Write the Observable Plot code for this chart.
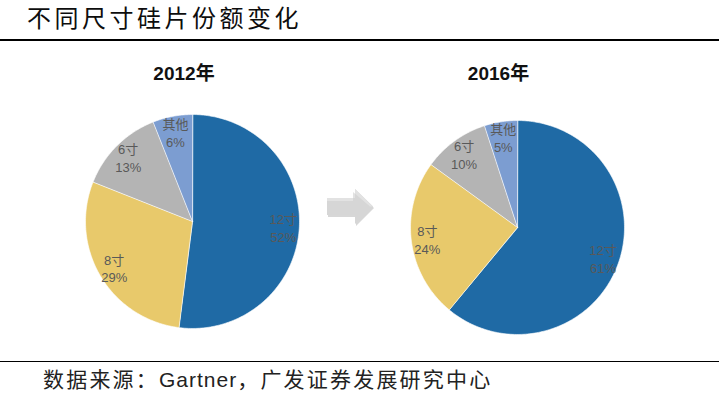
<!DOCTYPE html>
<html><head><meta charset="utf-8">
<script src="https://cdn.jsdelivr.net/npm/d3@7"></script>
<script src="https://cdn.jsdelivr.net/npm/@observablehq/plot@0.6"></script>
<style>
body{margin:0;background:#fff;}
#wrap{position:relative;width:719px;height:396px;overflow:hidden;font-family:"Noto Sans CJK SC",sans-serif;}
#title{position:absolute;left:27px;top:5px;font-size:24px;letter-spacing:3.5px;line-height:24px;color:#0d0d0d;white-space:nowrap;}
#topline{position:absolute;left:0;top:38.5px;width:719px;height:2px;background:#000;}
#botline{position:absolute;left:0;top:360.5px;width:719px;height:1.5px;background:#000;}
#caption{position:absolute;left:43px;top:367px;font-size:21px;line-height:22px;letter-spacing:2.2px;color:#222;white-space:nowrap;font-family:"Noto Sans CJK SC",sans-serif;}
#caption .lat{font-family:"Liberation Sans",Arial,sans-serif;letter-spacing:1px;}
.year{position:absolute;width:120px;text-align:center;font-weight:bold;font-size:19px;line-height:19px;color:#111;font-family:"Liberation Sans","Noto Sans CJK SC",sans-serif;}
.pie{position:absolute;}
#arrow{position:absolute;left:0;top:0;}
</style>
</head><body>
<div id="wrap">
  <div id="title">不同尺寸硅片份额变化</div>
  <div id="topline"></div>
  <div class="year" id="y0" style="left:124px;top:63.5px;"></div>
  <div class="year" id="y1" style="left:438.5px;top:63.5px;"></div>
  <div class="pie" id="p0" style="left:76.5px;top:106px;"></div>
  <div class="pie" id="p1" style="left:402px;top:112px;"></div>
  <svg id="arrow" width="719" height="396">
    <polygon points="328,200 356,200 356,191 374,208 356,226 356,217 328,217" fill="#bdbdbd" opacity="0.6"/>
    <polygon points="327,198 355,198 355,189 373,206.5 355,224 355,215 327,215" fill="#d6d6d6"/>
    <polygon points="327,198 355,198 355,189 373,206.5 370,206.5 353,192 353,201 327,201" fill="#e2e2e2"/>
  </svg>
  <div id="botline"></div>
  <div id="caption">数据来源：<span class="lat">Gartner</span>，广发证券发展研究中心</div>
</div>
<script>
const categories = ["12寸", "8寸", "6寸", "其他"];
const years = ["2012年", "2016年"];
const share2012 = [52, 29, 13, 6];
const share2016 = [61, 24, 10, 5];
const palette = ["#1F6AA5", "#E8C96B", "#B4B4B4", "#7C9DD1"];

function slicePolys(values) {
  const arcs = d3.pie().sort(null)(values);
  const rows = [];
  arcs.forEach((a, i) => {
    const cat = categories[i];
    rows.push({cat, x: 0, y: 0});
    const n = Math.max(2, Math.ceil((a.endAngle - a.startAngle) / (Math.PI / 180)));
    for (let k = 0; k <= n; k++) {
      const t = a.startAngle + (a.endAngle - a.startAngle) * k / n;
      rows.push({cat, x: Math.sin(t), y: Math.cos(t)});
    }
  });
  return rows;
}
function sliceLabels(values) {
  const arcs = d3.pie().sort(null)(values);
  return arcs.map((a, i) => {
    const t = (a.startAngle + a.endAngle) / 2;
    return {text: categories[i] + "\n" + values[i] + "%", x: 0.85 * Math.sin(t), y: 0.85 * Math.cos(t)};
  });
}
function pie(values) {
  return Plot.plot({
    width: 230, height: 230, margin: 0,
    x: {domain: [-1.075, 1.075], axis: null},
    y: {domain: [-1.075, 1.075], axis: null},
    color: {domain: categories, range: palette},
    style: {background: "transparent", overflow: "visible"},
    marks: [
      Plot.line(slicePolys(values), {x: "x", y: "y", z: "cat", fill: "cat", stroke: "white", strokeWidth: 0.6, curve: "linear-closed"}),
      Plot.text(sliceLabels(values), {x: "x", y: "y", text: "text", fill: "#595959", fontSize: 13, lineHeight: 1.38, fontFamily: "'Liberation Sans','Noto Sans CJK SC',sans-serif"})
    ]
  });
}
document.getElementById("y0").textContent = years[0];
document.getElementById("y1").textContent = years[1];
document.getElementById("p0").appendChild(pie(share2012));
document.getElementById("p1").appendChild(pie(share2016));
</script>
</body></html>
